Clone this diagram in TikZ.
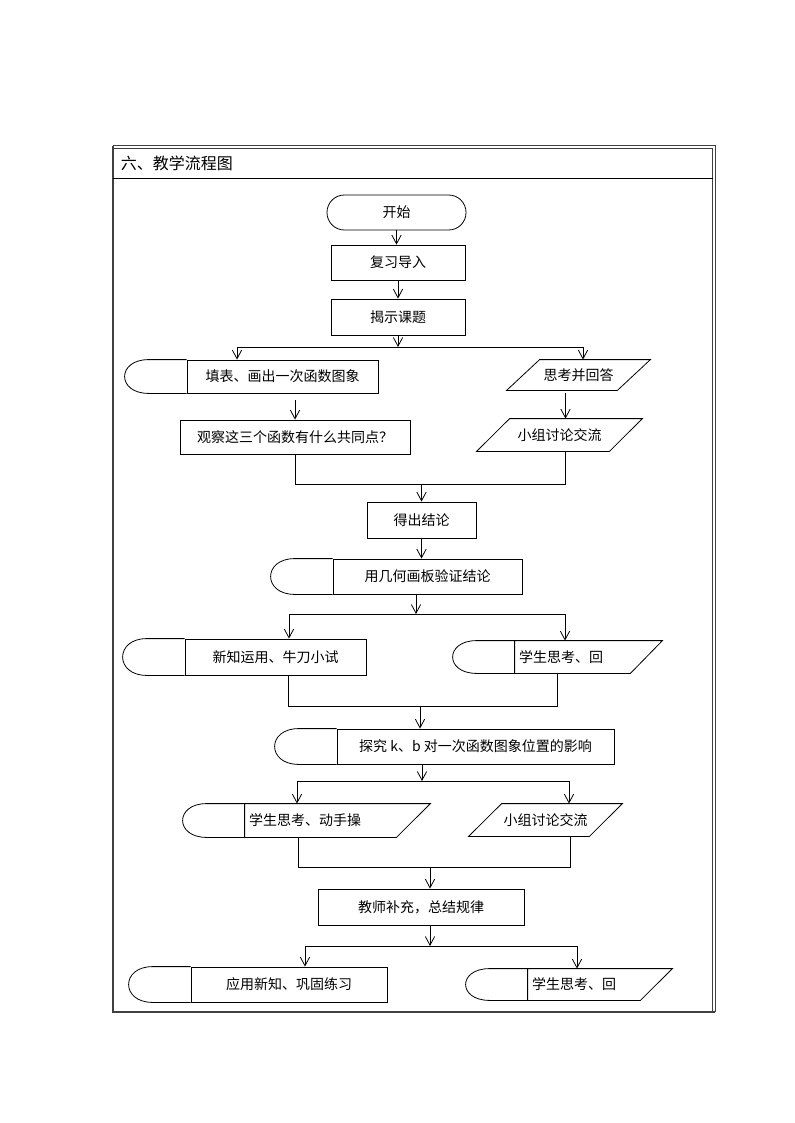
\documentclass[tikz,border=0pt]{standalone}
\usepackage{fontspec}
\setmainfont{Noto Sans CJK SC}
\usepackage{tikz}
\usetikzlibrary{arrows.meta, positioning, calc}

% outline helpers
\newcommand{\drawcap}[1]{\draw (#1.north west) -- ++(-38,0) .. controls +(-32,0) and +(-32,0) .. ($(#1.south west)+(-38,0)$) -- (#1.south west);}
\newcommand{\drawpara}[2]{\draw ($(#1.north west)+(#2,0)$) -- (#1.north east) -- ($(#1.south east)+(-#2,0)$) -- (#1.south west) -- cycle;}
\newcommand{\drawcut}[2]{\draw (#1.north west) -- (#1.north east) -- ($(#1.south east)+(-#2,0)$) -- (#1.south west) -- cycle;}

\begin{document}
\begin{tikzpicture}[
    x=0.75pt, y=-0.75pt,
    font=\fontsize{10.5pt}{12pt}\selectfont,
    line width=0.6pt,
    box/.style={draw, inner sep=1pt},
    shp/.style={inner sep=1pt},
    cut/.style={inner xsep=3pt, inner ysep=0pt, align=left},
    arr/.style={-{Straight Barb[length=6.5pt, width=7pt]}}
]
\useasboundingbox (0,0) rectangle (794,1123);

% frame
\draw[line width=1.5pt, black!75] (112.5,146) -- (112.5,1012) -- (715,1012);
\draw[black!75] (112.5,145.5) -- (715.5,145.5) -- (715.5,1012);
\draw[black!75] (112.5,148) -- (712.5,148) -- (712.5,1012);
\draw (112.5,178) -- (712.5,178);
\node[anchor=west, font=\fontsize{12pt}{14pt}\selectfont] (title) at (116,163) {六、教学流程图};

% steps
\node[box, rounded corners=13pt, minimum width=104.25pt, minimum height=26.25pt] (start) at (396.5,212.5) {开始};
\node[box, minimum width=100.5pt, minimum height=26.25pt] (review) at (398,262.5) {复习导入};
\node[box, minimum width=100.5pt, minimum height=27pt] (topic) at (398,317) {揭示课题};
\node[box, minimum width=143.25pt, minimum height=24.75pt] (fill) at (282.5,376.5) {填表、画出一次函数图象};
\node[shp, minimum width=107.25pt, minimum height=22.5pt] (think) at (578.5,375) {思考并回答};
\node[box, minimum width=172.5pt, minimum height=25.5pt] (observe) at (295,437) {观察这三个函数有什么共同点？};
\node[shp, minimum width=123.75pt, minimum height=24pt] (group1) at (559.5,435) {小组讨论交流};
\node[box, minimum width=81.75pt, minimum height=27pt] (result) at (421.5,520) {得出结论};
\node[box, minimum width=141.75pt, minimum height=26.25pt] (verify) at (427.5,576.5) {用几何画板验证结论};
\node[box, minimum width=135.75pt, minimum height=27pt] (apply) at (275.5,657) {新知运用、牛刀小试};
\node[cut, text width=104.25pt, minimum height=24pt] (answer1) at (588.5,657) {学生思考、回};
\node[box, minimum width=207.75pt, minimum height=26.25pt] (explore) at (475.5,746.5) {探究 k、b 对一次函数图象位置的影响};
\node[cut, text width=132.75pt, minimum height=24.75pt] (operate) at (337.5,820.5) {学生思考、动手操};
\node[shp, minimum width=114.75pt, minimum height=24pt] (group2) at (545.5,820) {小组讨论交流};
\node[box, minimum width=154.5pt, minimum height=27pt] (summary) at (421,907) {教师补充，总结规律};
\node[box, minimum width=147pt, minimum height=26.25pt] (practice) at (289,984.5) {应用新知、巩固练习};
\node[cut, text width=102pt, minimum height=23.25pt] (answer2) at (600,984.5) {学生思考、回};

% outlines
\drawpara{think}{33}
\drawpara{group1}{33}
\drawpara{group2}{33}
\drawcut{answer1}{32}
\drawcut{operate}{34}
\drawcut{answer2}{32}
\drawcap{fill}
\drawcap{verify}
\drawcap{apply}
\drawcap{answer1}
\drawcap{explore}
\drawcap{operate}
\drawcap{practice}
\drawcap{answer2}

% junctions
\coordinate (b1) at (398,347);
\coordinate (b1l) at (237,347);
\coordinate (b1r) at (583,347);
\coordinate (g1in) at ([xshift=4.5pt]group1.north);
\coordinate (g1out) at ([xshift=4.5pt]group1.south);
\coordinate (m1) at (421.5,484);
\coordinate (b2) at (416,614);
\coordinate (b2l) at (289,614);
\coordinate (b2r) at (565,614);
\coordinate (m2) at (420,706);
\coordinate (m2l) at (288,706);
\coordinate (m2r) at (557,706);
\coordinate (b3) at (422,781);
\coordinate (b3l) at (297,781);
\coordinate (b3r) at (569,781);
\coordinate (m3) at (430,867);
\coordinate (m3l) at (298,867);
\coordinate (m3r) at (570,867);
\coordinate (b4) at (430,946);
\coordinate (b4l) at (305,946);
\coordinate (b4r) at (577,946);

% connectors
\draw[arr] (start.south) -- (start.south |- review.north);
\draw[arr] (review.south) -- (review.south |- topic.north);
\draw[arr] (topic.south) -- (b1);
\draw (b1l) -- (b1r);
\draw[arr] (b1l) -- (b1l |- fill.north);
\draw[arr] (b1r) -- (b1r |- think.north);
\draw[arr, shorten <=5pt] (observe.north |- fill.south) -- (observe.north);
\draw[arr, shorten <=2pt] (g1in |- think.south) -- (g1in);
\draw (observe.south) |- (g1out |- m1) -- (g1out);
\draw[arr] (m1) -- (result.north);
\draw[arr] (result.south) -- (result.south |- verify.north);
\draw[arr] (b2 |- verify.south) -- (b2);
\draw (b2l) -- (b2r);
\draw[arr] (b2l) -- (b2l |- apply.north);
\draw[arr] (b2r) -- (b2r |- answer1.north);
\draw (m2l |- apply.south) -- (m2l) -- (m2r) -- (m2r |- answer1.south);
\draw[arr] (m2) -- (m2 |- explore.north);
\draw[arr] (b3 |- explore.south) -- (b3);
\draw (b3l) -- (b3r);
\draw[arr] (b3l) -- (b3l |- operate.north);
\draw[arr] (b3r) -- (b3r |- group2.north);
\draw (m3l |- operate.south) -- (m3l) -- (m3r) -- (m3r |- group2.south);
\draw[arr] (m3) -- (m3 |- summary.north);
\draw[arr] (b4 |- summary.south) -- (b4);
\draw (b4l) -- (b4r);
\draw[arr] (b4l) -- (b4l |- practice.north);
\draw[arr] (b4r) -- (b4r |- answer2.north);
\end{tikzpicture}
\end{document}
